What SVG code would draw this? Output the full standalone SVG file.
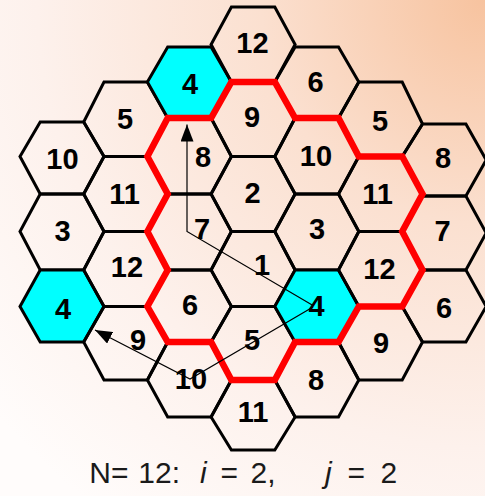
<svg xmlns="http://www.w3.org/2000/svg" width="485" height="496" viewBox="0 0 485 496">
<defs>
<radialGradient id="bg" cx="485" cy="0" r="640" gradientUnits="userSpaceOnUse">
<stop offset="0" stop-color="#f7c39f"/>
<stop offset="0.35" stop-color="#fbe0d0"/>
<stop offset="0.7" stop-color="#fdf1ec"/>
<stop offset="1" stop-color="#fffcfb"/>
</radialGradient>
<marker id="ah" markerWidth="18" markerHeight="13" refX="17" refY="6.5" orient="auto" markerUnits="userSpaceOnUse">
<path d="M0,0 L17,6.5 L0,13 z" fill="#000"/>
</marker>
<style>
.hex polygon{fill:none;stroke:#000;stroke-width:3;stroke-linejoin:miter}
.hex.cy polygon{fill:#00ffff}
.hex text{font-family:"Liberation Sans",Arial,sans-serif;font-weight:bold;font-size:29px;text-anchor:middle;fill:#000}
.cluster{fill:none;stroke:#ff0000;stroke-width:6.5;stroke-linejoin:miter}
.arr{fill:none;stroke:#000;stroke-width:1.2;marker-end:url(#ah)}
.cap{font-family:"Liberation Sans",Arial,sans-serif;font-size:30px;fill:#1a1a1a}
.it{font-style:italic}
</style>
</defs>
<rect width="485" height="496" fill="url(#bg)"/>

<g id="cells">
<g id="A3" class="hex"><polygon points="40.2,122 83.7,122 104,156.5 83.7,194 40.2,194 20,156.5"/><text x="62.5" y="168.7">10</text></g>
<g id="A5" class="hex"><polygon points="40.2,194 83.7,194 104,231.5 83.7,270 40.2,270 20,231.5"/><text x="62.5" y="241.4">3</text></g>
<g id="A7" class="hex cy"><polygon points="40.2,270 83.7,270 104,306.5 83.7,342 40.2,342 20,306.5"/><text x="63" y="318.9">4</text></g>

<g id="B2" class="hex"><polygon points="104,82 147.4,82 167.7,118 147.4,156.5 104,156.5 83.7,122"/><text x="125" y="129.4">5</text></g>
<g id="B4" class="hex"><polygon points="104,156.5 147.4,156.5 167.7,194 147.4,231.5 104,231.5 83.7,194"/><text x="124.5" y="203.7">11</text></g>
<g id="B6" class="hex"><polygon points="104,231.5 147.4,231.5 167.7,270 147.4,306.5 104,306.5 83.7,270"/><text x="127" y="277.4">12</text></g>
<g id="B8" class="hex"><polygon points="104,306.5 147.4,306.5 167.7,342 147.4,380 104,380 83.7,342"/><text x="138" y="350.4">9</text></g>

<g id="C1" class="hex cy"><polygon points="167.7,47 211.1,47 231.4,82 211.1,118 167.7,118 147.4,82"/><text x="190" y="93.7">4</text></g>
<g id="C3" class="hex"><polygon points="167.7,118 211.1,118 231.4,156.5 211.1,194 167.7,194 147.4,156.5"/><text x="203" y="166.9">8</text></g>
<g id="C5" class="hex"><polygon points="167.7,194 211.1,194 231.4,231.5 211.1,270 167.7,270 147.4,231.5"/><text x="202" y="239.4">7</text></g>
<g id="C7" class="hex"><polygon points="167.7,270 211.1,270 231.4,306.5 211.1,342 167.7,342 147.4,306.5"/><text x="190" y="315.4">6</text></g>
<g id="C9" class="hex"><polygon points="167.7,342 211.1,342 231.4,380 211.1,417 167.7,417 147.4,380"/><text x="191" y="389.4">10</text></g>

<g id="D0" class="hex"><polygon points="231.4,7 274.8,7 295.1,44.5 274.8,82 231.4,82 211.1,44.5"/><text x="252.5" y="52.9">12</text></g>
<g id="D2" class="hex"><polygon points="231.4,82 274.8,82 295.1,118 274.8,156.5 231.4,156.5 211.1,118"/><text x="252" y="127.4">9</text></g>
<g id="D4" class="hex"><polygon points="231.4,156.5 274.8,156.5 295.1,194 274.8,231.5 231.4,231.5 211.1,194"/><text x="252.5" y="203.4">2</text></g>
<g id="D6" class="hex"><polygon points="231.4,231.5 274.8,231.5 295.1,270 274.8,306.5 231.4,306.5 211.1,270"/><text x="262" y="275.4">1</text></g>
<g id="D8" class="hex"><polygon points="231.4,306.5 274.8,306.5 295.1,342 274.8,380 231.4,380 211.1,342"/><text x="252" y="350.4">5</text></g>
<g id="D10" class="hex"><polygon points="231.4,380 274.8,380 295.1,417 274.8,450 231.4,450 211.1,417"/><text x="253" y="422.4">11</text></g>

<g id="E1" class="hex"><polygon points="295.1,47 338.5,47 358.8,82 338.5,118 295.1,118 274.8,82"/><text x="315.5" y="92.1">6</text></g>
<g id="E3" class="hex"><polygon points="295.1,118 338.5,118 358.8,156.5 338.5,194 295.1,194 274.8,156.5"/><text x="316" y="166.4">10</text></g>
<g id="E5" class="hex"><polygon points="295.1,194 338.5,194 358.8,231.5 338.5,270 295.1,270 274.8,231.5"/><text x="317" y="239.4">3</text></g>
<g id="E7" class="hex cy"><polygon points="295.1,270 338.5,270 358.8,306.5 338.5,342 295.1,342 274.8,306.5"/><text x="316.5" y="315.9">4</text></g>
<g id="E9" class="hex"><polygon points="295.1,342 338.5,342 358.8,380 338.5,417 295.1,417 274.8,380"/><text x="316" y="390.4">8</text></g>

<g id="F2" class="hex"><polygon points="358.8,82 402.2,82 422.5,124 402.2,156.5 358.8,156.5 338.5,118"/><text x="380" y="131.4">5</text></g>
<g id="F4" class="hex"><polygon points="358.8,156.5 402.2,156.5 422.5,194 402.2,231.5 358.8,231.5 338.5,194"/><text x="377.5" y="204.4">11</text></g>
<g id="F6" class="hex"><polygon points="358.8,231.5 402.2,231.5 422.5,270 402.2,306.5 358.8,306.5 338.5,270"/><text x="379.5" y="279.4">12</text></g>
<g id="F8" class="hex"><polygon points="358.8,306.5 402.2,306.5 422.5,342 402.2,380 358.8,380 338.5,342"/><text x="381" y="353.4">9</text></g>

<g id="G3" class="hex"><polygon points="422.5,124 465.9,124 486.2,160 465.9,196 422.5,196 402.2,156.5"/><text x="443" y="168.4">8</text></g>
<g id="G5" class="hex"><polygon points="422.5,196 465.9,196 486.2,233 465.9,270 422.5,270 402.2,231.5"/><text x="442.5" y="241.4">7</text></g>
<g id="G7" class="hex"><polygon points="422.5,270 465.9,270 486.2,306.5 465.9,342 422.5,342 402.2,306.5"/><text x="444" y="318.4">6</text></g>
</g>

<g id="cluster-boundary">
<polygon class="cluster" points="231.4,82 274.8,82 295.1,118 338.5,118 358.8,156.5 402.2,156.5 422.5,194 402.2,231.5 422.5,270 402.2,306.5 358.8,306.5 338.5,342 295.1,342 274.8,380 231.4,380 211.1,342 167.7,342 147.4,306.5 167.7,270 147.4,231.5 167.7,194 147.4,156.5 167.7,118 211.1,118"/>
</g>

<g id="connectors">
<polyline class="arr" points="313,305.5 187,231.5 187,124.5"/>
<polyline class="arr" points="313,307 190,379 95,330"/>
</g>

<text class="cap" y="483"><tspan x="89.3">N=</tspan> <tspan x="138.3">12:</tspan> <tspan x="200" class="it">i</tspan> <tspan x="220.5">=</tspan> <tspan x="250.5">2,</tspan> <tspan x="325" class="it">j</tspan> <tspan x="347.5">=</tspan> <tspan x="380.5">2</tspan></text>
</svg>
